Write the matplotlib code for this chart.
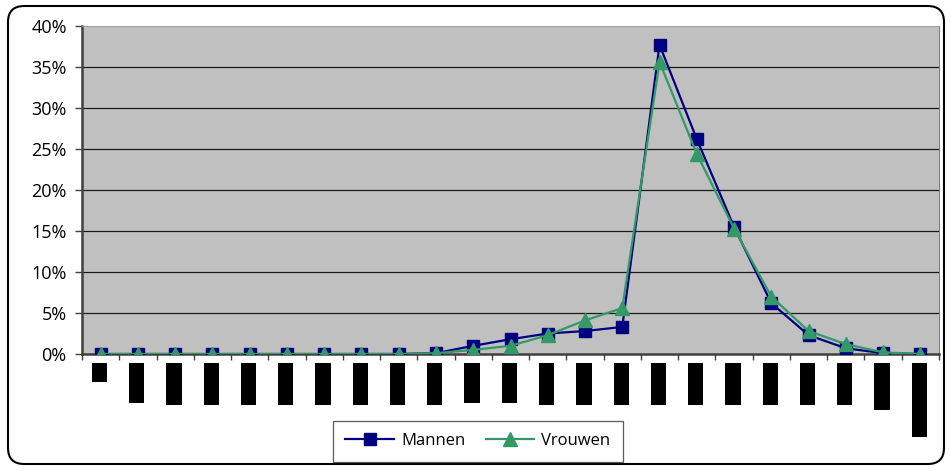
import numpy as np
import matplotlib
matplotlib.use("Agg")
import matplotlib.pyplot as plt
from matplotlib.patches import FancyBboxPatch

# --- Data ---
categories = [f"c{i}" for i in range(23)]
mannen = [0, 0, 0, 0, 0, 0, 0, 0, 0, 0.1, 1.0, 1.8, 2.5, 2.8, 3.3,
          37.7, 26.2, 15.5, 6.2, 2.3, 0.7, 0.1, 0.0]
vrouwen = [0, 0, 0, 0, 0, 0, 0, 0, 0, 0.1, 0.5, 1.0, 2.3, 4.1, 5.6,
           35.6, 24.4, 15.3, 7.0, 2.8, 1.2, 0.2, 0.0]
# lengths of the blacked-out category labels below the axis
label_len = [19, 40, 42, 42, 42, 42, 42, 42, 42, 42, 40, 40,
             42, 42, 42, 42, 42, 42, 42, 42, 42, 47, 74]
yticks = [0, 5, 10, 15, 20, 25, 30, 35, 40]

NAVY = "#000080"
GREEN = "#339966"
GRAY = "#C0C0C0"
W, H = 951, 470

plt.rcParams["font.family"] = ["Open Sans", "DejaVu Sans"]

fig = plt.figure(figsize=(W / 100, H / 100), dpi=100)

# rounded outer border
border = FancyBboxPatch((8 / W, 6 / H), 936 / W, 458 / H,
                        boxstyle="round,pad=0,rounding_size=0.017",
                        transform=fig.transFigure, facecolor="none",
                        edgecolor="black", linewidth=1.5, mutation_aspect=W / H,
                        zorder=0)
fig.patches.append(border)

x = np.arange(len(categories))

ax = fig.add_axes([82 / W, (H - 354) / H, 857 / W, 328 / H])
ax.set_facecolor(GRAY)
ax.set_xlim(-0.5, len(categories) - 0.5)
ax.set_ylim(0, 40)

for v in yticks[1:-1]:
    ax.axhline(v, color="#1a1a1a", linewidth=0.9, zorder=1)

ax.plot(x, mannen, color=NAVY, linewidth=1.6, marker="s", markersize=9,
        markerfacecolor=NAVY, markeredgecolor=NAVY, label="Mannen", zorder=3)
ax.plot(x, vrouwen, color=GREEN, linewidth=1.6, marker="^", markersize=10,
        markerfacecolor=GREEN, markeredgecolor=GREEN, label="Vrouwen", zorder=4)

ax.set_yticks(yticks)
ax.set_yticklabels([f"{v}%" for v in yticks], fontsize=13)
ax.set_xticks(np.arange(len(categories) + 1) - 0.5)
ax.set_xticklabels([])
ax.tick_params(axis="y", length=5, width=1, color="#404040", pad=6)
ax.tick_params(axis="x", length=4, width=1, color="#404040")

ax.spines["left"].set_color("#404040")
ax.spines["left"].set_linewidth(1.8)
ax.spines["bottom"].set_color("#404040")
ax.spines["bottom"].set_linewidth(1.8)
ax.spines["right"].set_color("#808080")
ax.spines["top"].set_color("#A0A0A0")

# blacked-out category labels
ax2 = fig.add_axes([82 / W, (H - 443) / H, 857 / W, 80 / H])
ax2.set_xlim(-0.5, len(categories) - 0.5)
ax2.set_ylim(80, 0)
ax2.bar(x - 0.03, label_len, width=0.41, color="black", align="center")
ax2.axis("off")

fig.legend(loc="center", bbox_to_anchor=(478 / W, (H - 441) / H), ncol=2,
           frameon=True, fancybox=False, edgecolor="#333333", fontsize=12,
           handlelength=2.9, columnspacing=1.2, borderpad=0.75,
           handletextpad=0.45, markerscale=1.0)
fig.legends[0].get_frame().set_linewidth(0.9)

fig.savefig("out.png", dpi=100)
